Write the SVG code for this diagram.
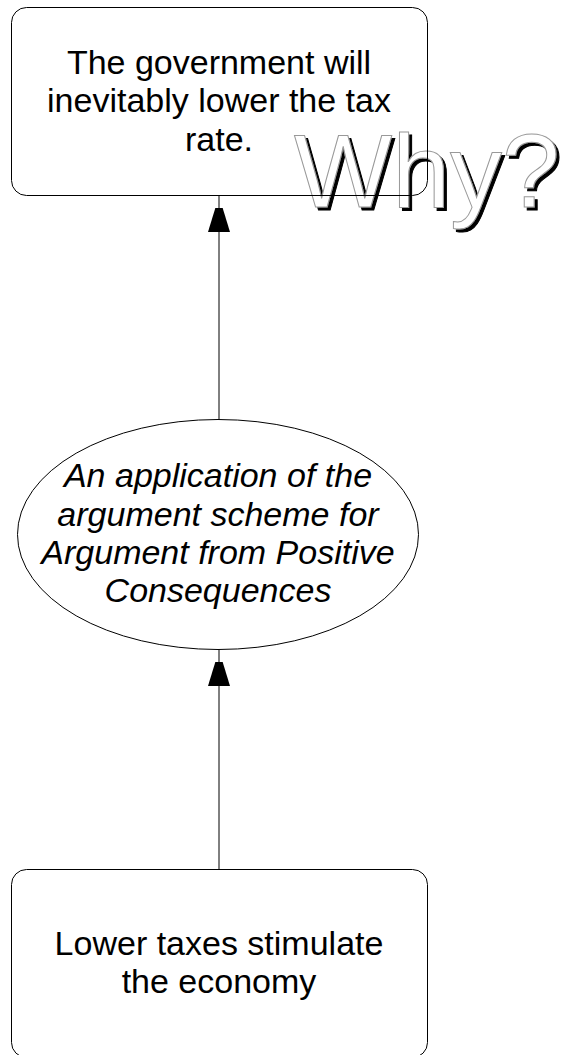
<svg xmlns="http://www.w3.org/2000/svg" width="566" height="1055" viewBox="0 0 566 1055">
<style>
.box{fill:none;stroke:#000;stroke-width:1}
.ell{fill:#fff;stroke:#000;stroke-width:1}
.t{font-family:"Liberation Sans",Arial,sans-serif;font-size:34px;fill:#000;text-anchor:middle}
.i{font-style:italic}
.edge{stroke:#000;stroke-width:1;fill:none;marker-end:url(#ah)}
.why{font-family:"Liberation Sans",Arial,sans-serif;font-size:104px;fill:#fff;stroke:#999;stroke-width:1;filter:url(#shadow)}
</style>
<defs>
<marker id="ah" markerUnits="userSpaceOnUse" markerWidth="24" markerHeight="38" viewBox="0 0 24 38" refX="36" refY="11" orient="auto">
<path d="M0,0 L36,11 L0,22 Z" fill="#000"/>
</marker>
<filter id="shadow" x="-10%" y="-10%" width="130%" height="130%">
<feOffset in="SourceAlpha" dx="3" dy="3" result="off"/>
<feMerge><feMergeNode in="off"/><feMergeNode in="SourceGraphic"/></feMerge>
</filter>
</defs>
<rect width="566" height="1055" fill="#fff"/>
<g id="why">
<text class="why" x="294" y="207">Why?</text>
</g>
<g id="connectors">
<line class="edge" x1="219" y1="419" x2="219" y2="196"/>
<line class="edge" x1="219" y1="869" x2="219" y2="650"/>
</g>
<g id="n1">
<rect class="box" x="11.5" y="7.5" width="416" height="188" rx="15"/>
<text class="t" x="219" y="74">The government will</text>
<text class="t" x="219" y="112">inevitably lower the tax</text>
<text class="t" x="219" y="151">rate.</text>
</g>
<g id="n2">
<ellipse class="ell" cx="218" cy="534.5" rx="200.5" ry="115"/>
<text class="t i" x="218" y="487">An application of the</text>
<text class="t i" x="218" y="526">argument scheme for</text>
<text class="t i" x="218" y="564">Argument from Positive</text>
<text class="t i" x="218" y="602">Consequences</text>
</g>
<g id="n3">
<rect class="box" x="11.5" y="869.5" width="416" height="188" rx="15"/>
<text class="t" x="219" y="955">Lower taxes stimulate</text>
<text class="t" x="219" y="993">the economy</text>
</g>
</svg>
